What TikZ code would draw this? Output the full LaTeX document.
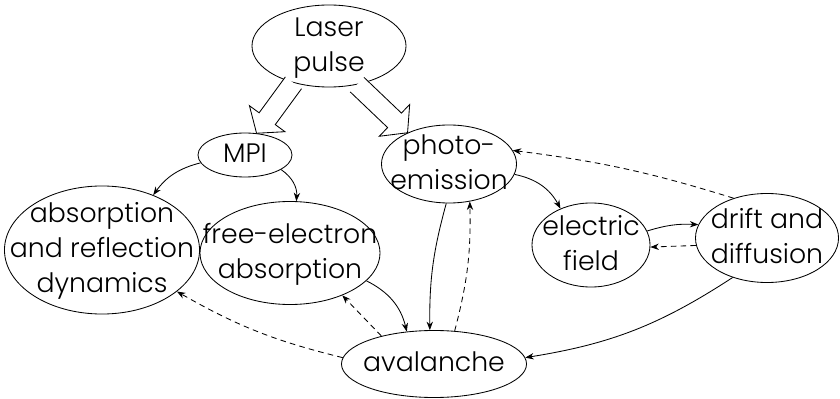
\documentclass[tikz,border=0pt]{standalone}
\usepackage{fontspec}
\setmainfont{Poppins Light}
\usetikzlibrary{shapes.geometric,arrows.meta,calc}
\newcommand{\inbox}[1]{\smash{\makebox[0pt]{\raisebox{-0.25em}{\begin{tabular}{@{}c@{}}#1\end{tabular}}}}}
\tikzset{
  blob/.style={ellipse,draw,inner sep=0pt},
  feedback/.style={dash pattern=on 4pt off 3pt},
  fat/.style={fill=white,line join=miter,to path={
    ($(\tikztostart)!0.25cm!90:(\tikztotarget)$)
    -- ($(\tikztotarget)!0.45cm!(\tikztostart)!0.25cm!270:(\tikztostart)$)
    -- ($(\tikztotarget)!0.45cm!(\tikztostart)!0.55cm!270:(\tikztostart)$)
    -- (\tikztotarget)
    -- ($(\tikztotarget)!0.45cm!(\tikztostart)!0.55cm!90:(\tikztostart)$)
    -- ($(\tikztotarget)!0.45cm!(\tikztostart)!0.25cm!90:(\tikztostart)$)
    -- ($(\tikztostart)!0.25cm!270:(\tikztotarget)$)}}
}
\begin{document}
\begin{tikzpicture}[x=0.025cm,y=-0.025cm,line width=0.6pt,
  >={Stealth[length=6pt,width=4.5pt]},
  every node/.style={font=\fontsize{19}{25}\selectfont}]
\useasboundingbox (0,0) rectangle (840,399);
% the processes
\node[blob,minimum width=3.85cm,minimum height=2.05cm] (laser) at (329,46) {\inbox{Laser\\pulse}};
\node[blob,minimum width=2.35cm,minimum height=1.1cm] (mpi) at (245,155) {\inbox{MPI}};
\node[blob,minimum width=3.375cm,minimum height=1.95cm] (photo) at (449,164) {\inbox{photo-\\emission}};
\node[blob,minimum width=4.875cm,minimum height=3.2cm] (absorb) at (102,250) {\inbox{absorption\\and reflection\\dynamics}};
\node[blob,minimum width=4.5cm,minimum height=2.575cm] (free) at (290,253) {\inbox{free-electron\\absorption}};
\node[blob,minimum width=2.95cm,minimum height=2.1cm] (electric) at (591,245) {\inbox{electric\\field}};
\node[blob,minimum width=3.575cm,minimum height=2.225cm] (drift) at (767,238) {\inbox{drift and\\diffusion}};
\node[blob,minimum width=4.625cm,minimum height=1.675cm] (aval) at (434,364) {\inbox{avalanche}};
% the pulse
\draw[fat] (laser.226) to (mpi.62);
\draw[fat] (laser.306) to (photo.143);
% couplings
\draw[->] (mpi.190) to[bend right=20] (absorb.47);
\draw[->] (mpi.338) to[bend left=30] (free.83);
\draw[->] (free.340) to[bend left=25] (aval.130);
\draw[->,feedback] (aval.152) to (free.321);
\draw[->,feedback] (aval.176) to[bend left=8] (absorb.331);
\draw[->] (photo.266) to[bend right=8] (aval.97);
\draw[->,feedback] (aval.58) to[bend right=8] (photo.299);
\draw[->] (photo.351) to[bend left=25] (electric.130);
\draw[->] (electric.14) to[bend left=10] (drift.169);
\draw[->,feedback] (drift.186) to (electric.358);
\draw[->,feedback] (drift.130) to[bend right=5] (photo.12);
\draw[->] (drift.229) to[bend left=12] (aval.4);
\end{tikzpicture}
\end{document}
